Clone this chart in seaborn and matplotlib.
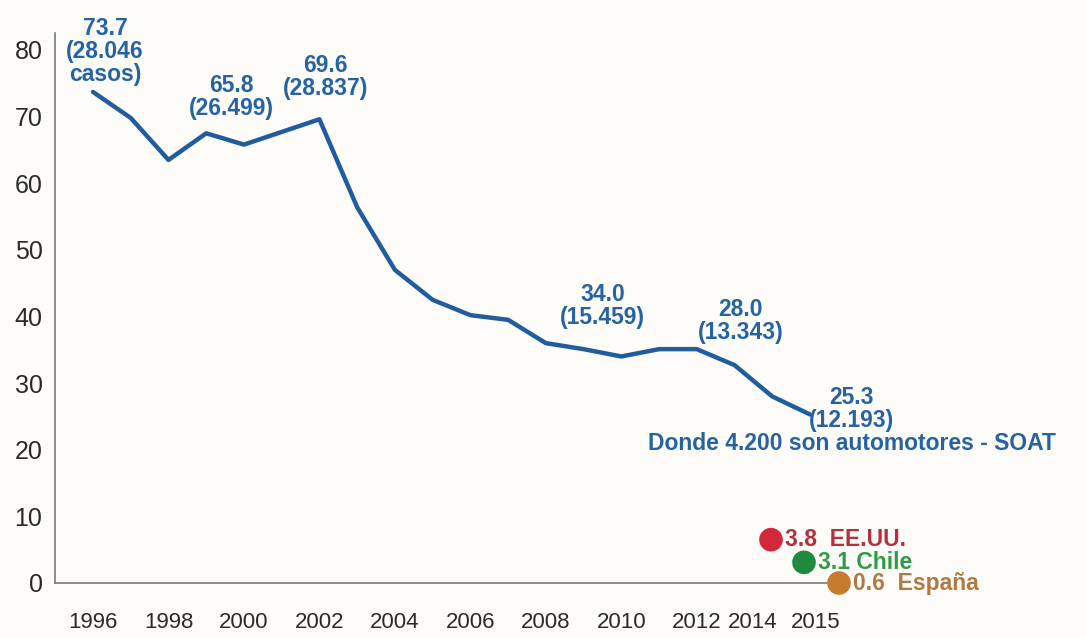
import matplotlib
matplotlib.use("Agg")
import matplotlib.pyplot as plt
import matplotlib.transforms as mtransforms
import seaborn as sns
import pandas as pd

# ---- data ----
years = list(range(1996, 2016))
rates = [73.7, 69.8, 63.5, 67.5, 65.8, 67.7, 69.6, 56.4, 47.0, 42.5,
         40.2, 39.5, 36.0, 35.1, 34.0, 35.1, 35.1, 32.7, 28.0, 25.3]

label_years = [1996, 2000, 2002, 2010, 2014, 2015]
label_texts = ["73.7\n(28.046\ncasos)", "65.8\n(26.499)", "69.6\n(28.837)",
               "34.0\n(15.459)", "28.0\n(13.343)",
               "25.3\n(12.193)\nDonde 4.200 son automotores - SOAT"]

countries = ["EE.UU.", "Chile", "España"]
country_rates = [3.8, 3.1, 0.6]
country_year = 2015

xtick_years = [1996, 1998, 2000, 2002, 2004, 2006, 2008, 2010, 2012, 2014, 2015]
yticks = [0, 10, 20, 30, 40, 50, 60, 70, 80]

# ---- style ----
sns.set_theme(style="white")
plt.rcParams["font.family"] = ["Liberation Sans", "DejaVu Sans"]

BG = "#fefcf8"
LINE = "#215d9c"
TXT = "#2563a3"
dot_colors = ["#d3283a", "#1f8a3e", "#c77b2e"]
txt_colors = ["#b3303f", "#2e9b48", "#b07a42"]

fig = plt.figure(figsize=(10.86, 6.38), dpi=100, facecolor=BG)
ax = fig.add_axes([55 / 1086, 1 - 583 / 638, 775 / 1086, 550 / 638])
ax.set_facecolor(BG)

df = pd.DataFrame({"year": years, "rate": rates})
sns.lineplot(data=df, x="year", y="rate", ax=ax, color=LINE, linewidth=3.2,
             solid_joinstyle="round", solid_capstyle="round")

ax.set_xlim(1994.993, 2015.53)
ax.set_ylim(0, 82.55)
ax.set_xlabel("")
ax.set_ylabel("")

for s in ["top", "right"]:
    ax.spines[s].set_visible(False)
for s in ["left", "bottom"]:
    ax.spines[s].set_color("#7a7a7a")
    ax.spines[s].set_linewidth(1.2)

ax.set_yticks(yticks)
ax.set_yticklabels([str(v) for v in yticks], fontsize=18, color="#2a2a2a")
ax.set_xticks(xtick_years)
ax.set_xticklabels([str(y) for y in xtick_years], fontsize=16, color="#2a2a2a")
ax.tick_params(axis="y", length=0, pad=9)
ax.tick_params(axis="x", length=0, pad=21)

# spread the crowded 2014 / 2015 labels apart a little
label_nudges = {"2014": -20, "2015": 6}
for lbl in ax.get_xticklabels():
    if lbl.get_text() in label_nudges:
        lbl.set_transform(lbl.get_transform() +
                          mtransforms.ScaledTranslation(label_nudges[lbl.get_text()] / 100, 0,
                                                        fig.dpi_scale_trans))

# ---- annotations ----
label_offsets = [(12, 40), (-13, 48), (6, 42), (-19, 50), (-32, 75), (42, -6)]
for yr, txt, (dx, dy) in zip(label_years, label_texts, label_offsets):
    val = rates[years.index(yr)]
    ax.annotate(txt, xy=(yr, val), xytext=(dx, dy), textcoords="offset pixels",
                ha="center", va="center", multialignment="center",
                fontsize=16.5, fontweight="bold", color=TXT, linespacing=1.0,
                annotation_clip=False)

# ---- comparison countries ----
dot_offsets = [(-39, 18), (-6, 0), (29, -4)]
for name, val, (dx, dy), dc, tc in zip(countries, country_rates, dot_offsets,
                                        dot_colors, txt_colors):
    off = mtransforms.ScaledTranslation(dx / 100, dy / 100, fig.dpi_scale_trans)
    ax.scatter([country_year], [val], s=290, color=dc, edgecolor="none",
               transform=ax.transData + off, clip_on=False, zorder=5)
    sep = "  " if name != "Chile" else " "
    ax.annotate(f"{val}{sep}{name}", xy=(country_year, val),
                xytext=(dx + 14, dy), textcoords="offset pixels",
                ha="left", va="center", fontsize=16.5, fontweight="bold",
                color=tc, annotation_clip=False)

fig.savefig("out.png", dpi=100, facecolor=BG)
